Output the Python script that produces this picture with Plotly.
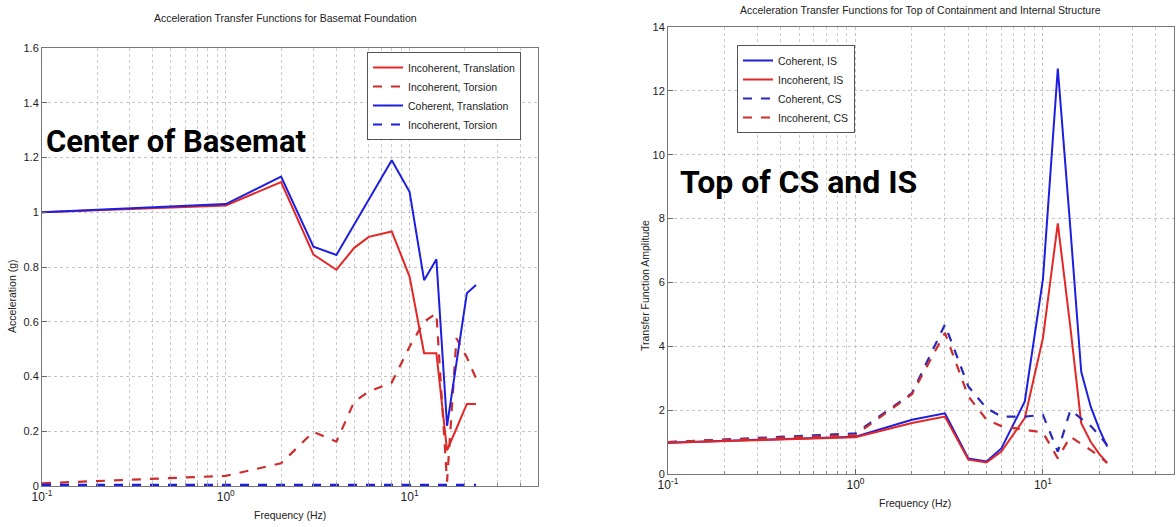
import math
import plotly.graph_objects as go

# ---------------- data: left panel (Center of Basemat) ----------------
freq_left = [0.1, 1.0, 2.0, 3.0, 4.0, 5.0, 6.0, 8.0, 10.0, 12.0, 14.0, 16.0, 18.0, 20.5, 23.0]
incoh_translation = [1.0, 1.025, 1.11, 0.845, 0.79, 0.87, 0.91, 0.93, 0.765, 0.485, 0.485, 0.13, 0.21, 0.30, 0.30]
incoh_torsion_red = [0.01, 0.037, 0.083, 0.198, 0.162, 0.308, 0.345, 0.378, 0.509, 0.60, 0.631, 0.016, 0.54, 0.47, 0.393]
coh_translation = [1.0, 1.03, 1.13, 0.874, 0.844, 0.955, 1.045, 1.19, 1.075, 0.752, 0.828, 0.22, 0.45, 0.704, 0.734]
incoh_torsion_blue = [0.004, 0.004, 0.004, 0.004, 0.004, 0.004, 0.004, 0.004, 0.004, 0.004, 0.004, 0.004, 0.004, 0.004, 0.004]

# ---------------- data: right panel (Top of CS and IS) ----------------
freq_right = [0.1, 1.0, 2.0, 3.0, 4.0, 5.0, 6.0, 8.0, 10.0, 12.0, 14.0, 16.0, 18.0, 20.0, 22.0]
coh_IS = [0.98, 1.17, 1.7, 1.9, 0.49, 0.39, 0.8, 2.27, 6.1, 12.7, 7.7, 3.2, 2.1, 1.4, 0.86]
incoh_IS = [0.98, 1.15, 1.6, 1.8, 0.45, 0.36, 0.7, 1.75, 4.26, 7.85, 4.6, 1.59, 1.0, 0.62, 0.35]
coh_CS = [1.0, 1.27, 2.53, 4.68, 2.74, 2.06, 1.8, 1.8, 1.85, 0.70, 2.0, 1.72, 1.5, 1.2, 0.91]
incoh_CS = [1.0, 1.22, 2.5, 4.42, 2.43, 1.7, 1.5, 1.38, 1.3, 0.49, 1.17, 0.94, 0.75, 0.55, 0.35]

left_yticks = [0, 0.2, 0.4, 0.6, 0.8, 1.0, 1.2, 1.4, 1.6]
right_yticks = [0, 2, 4, 6, 8, 10, 12, 14]
x_major = [0.1, 1, 10]
x_major_text = ["10<sup>-1</sup>", "10<sup>0</sup>", "10<sup>1</sup>"]
x_minor = [0.2, 0.3, 0.4, 0.5, 0.6, 0.7, 0.8, 0.9, 2, 3, 4, 5, 6, 7, 8, 9, 20, 30, 40]

W, H = 1176, 527
def px(x):
    return x / W
def py(y):
    return 1 - y / H

BLUE = "rgb(30,30,225)"
RED = "rgb(228,38,38)"
RED_D = "rgb(205,45,45)"
BLUE_D = "rgb(40,40,185)"
FONT = "Liberation Sans, Arial, sans-serif"
BIG = "Roboto, Liberation Sans, Arial, sans-serif"

fig = go.Figure()

# left panel traces
fig.add_trace(go.Scatter(x=freq_left, y=incoh_translation, mode="lines", name="Incoherent, Translation",
                         line=dict(color=RED, width=2), xaxis="x", yaxis="y", legend="legend"))
fig.add_trace(go.Scatter(x=freq_left, y=incoh_torsion_red, mode="lines", name="Incoherent, Torsion",
                         line=dict(color=RED_D, width=2.2, dash="dash"), xaxis="x", yaxis="y", legend="legend"))
fig.add_trace(go.Scatter(x=freq_left, y=coh_translation, mode="lines", name="Coherent, Translation",
                         line=dict(color=BLUE, width=2), xaxis="x", yaxis="y", legend="legend"))
fig.add_trace(go.Scatter(x=freq_left, y=incoh_torsion_blue, mode="lines", name="Incoherent, Torsion",
                         line=dict(color=BLUE, width=2.2, dash="dash"), xaxis="x", yaxis="y", legend="legend"))

# right panel traces
fig.add_trace(go.Scatter(x=freq_right, y=coh_IS, mode="lines", name="Coherent, IS",
                         line=dict(color=BLUE, width=2), xaxis="x2", yaxis="y2", legend="legend2"))
fig.add_trace(go.Scatter(x=freq_right, y=incoh_IS, mode="lines", name="Incoherent, IS",
                         line=dict(color=RED, width=2), xaxis="x2", yaxis="y2", legend="legend2"))
fig.add_trace(go.Scatter(x=freq_right, y=coh_CS, mode="lines", name="Coherent, CS",
                         line=dict(color=BLUE_D, width=2.2, dash="dash"), xaxis="x2", yaxis="y2", legend="legend2"))
fig.add_trace(go.Scatter(x=freq_right, y=incoh_CS, mode="lines", name="Incoherent, CS",
                         line=dict(color=RED_D, width=2.2, dash="dash"), xaxis="x2", yaxis="y2", legend="legend2"))

xr = [-1, math.log10(50)]

def xaxis_def(domain, anchor):
    return dict(domain=domain, anchor=anchor, type="log", range=xr, automargin=False,
                tickmode="array", tickvals=x_major, ticktext=x_major_text,
                ticks="inside", ticklen=5, tickcolor="#666",
                showline=True, linecolor="#777", linewidth=1, mirror=True,
                showgrid=True, gridcolor="#c4c4c4", griddash="dot", gridwidth=1,
                minor=dict(tickmode="array", tickvals=x_minor, ticks="inside", ticklen=3,
                           tickcolor="#888", showgrid=True, gridcolor="#cccccc",
                           griddash="dot", gridwidth=1),
                tickfont=dict(size=12, color="#222", family=FONT), zeroline=False)

def yaxis_def(domain, anchor, rng, tv):
    return dict(domain=domain, anchor=anchor, range=rng, tickmode="array", tickvals=tv,
                automargin=False,
                ticks="inside", ticklen=5, tickcolor="#666",
                showline=True, linecolor="#777", linewidth=1, mirror=True,
                showgrid=True, gridcolor="#c4c4c4", griddash="dot", gridwidth=1,
                tickfont=dict(size=11, color="#222", family=FONT), zeroline=False)

fig.update_layout(
    width=W, height=H,
    margin=dict(l=0, r=0, t=0, b=0, pad=0, autoexpand=False),
    paper_bgcolor="white", plot_bgcolor="white",
    font=dict(family=FONT, color="#222"),
    xaxis=xaxis_def([px(42), px(538)], "y"),
    yaxis=yaxis_def([py(486), py(48)], "x", [0, 1.6], left_yticks),
    xaxis2=xaxis_def([px(668), px(1174)], "y2"),
    yaxis2=yaxis_def([py(474), py(27)], "x2", [0, 14], right_yticks),
    legend=dict(x=px(367), y=py(52), xanchor="left", yanchor="top",
                bgcolor="white", bordercolor="#555", borderwidth=1,
                font=dict(size=10.5, family=FONT, color="#222"), itemwidth=30,
                tracegroupgap=0),
    legend2=dict(x=px(737), y=py(45), xanchor="left", yanchor="top",
                 bgcolor="white", bordercolor="#555", borderwidth=1,
                 font=dict(size=10.5, family=FONT, color="#222"), itemwidth=30,
                 tracegroupgap=0),
    showlegend=True,
)

annots = [
    dict(text="Acceleration Transfer Functions for Basemat Foundation", x=px(285), y=py(18),
         font=dict(size=10.5, family=FONT, color="#222")),
    dict(text="Acceleration Transfer Functions for Top of Containment and Internal Structure", x=px(920), y=py(10),
         font=dict(size=10.5, family=FONT, color="#222")),
    dict(text="Frequency (Hz)", x=px(290), y=py(515), font=dict(size=10.5, family=FONT, color="#222")),
    dict(text="Frequency (Hz)", x=px(915), y=py(503), font=dict(size=10.5, family=FONT, color="#222")),
    dict(text="Acceleration (g)", x=px(12), y=py(296), textangle=-90,
         font=dict(size=10.5, family=FONT, color="#222")),
    dict(text="Transfer Function Amplitude", x=px(645), y=py(286), textangle=-90,
         font=dict(size=10.5, family=FONT, color="#222")),
    dict(text="<b>Center of Basemat</b>", x=px(176), y=py(141),
         font=dict(size=31, family=BIG, color="black")),
    dict(text="<b>Top of CS and IS</b>", x=px(799), y=py(182),
         font=dict(size=32, family=BIG, color="black")),
]
for a in annots:
    a.setdefault("xanchor", "center")
    a.update(xref="paper", yref="paper", showarrow=False, yanchor="middle")
    fig.add_annotation(**a)

fig.write_html("out.html",
               config={"displayModeBar": False},
               post_script="document.body.style.margin='0';document.body.style.overflow='hidden';")
